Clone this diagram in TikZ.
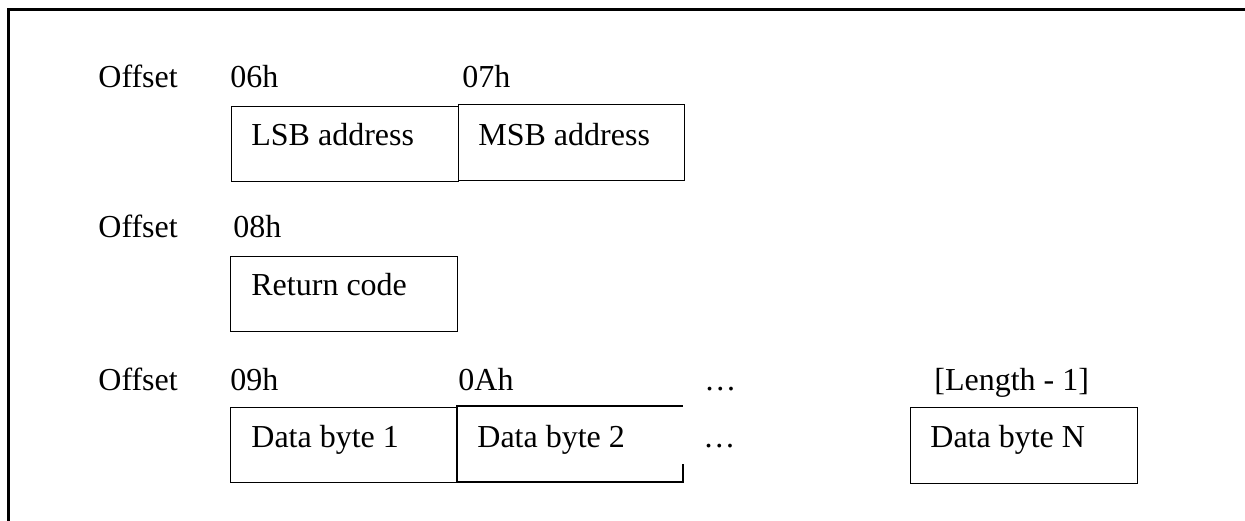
\documentclass[tikz,border=0pt]{standalone}
\usepackage{fontspec}
\setmainfont{Liberation Serif}
\begin{document}
\begin{tikzpicture}[x=0.5pt,y=-0.5pt,
  lbl/.style={anchor=base west, inner sep=0pt, font=\fontsize{16}{19}\selectfont},
  cell/.style={draw, line width=0.55pt, inner sep=0pt, anchor=north west},
  frame/.style={line width=1.35pt}]
\useasboundingbox (0,0) rectangle (1245,520);
\clip (0,0) rectangle (1245,520);
\draw[frame] (8.7,9.7) rectangle (1300,560);
% row 1
\node[lbl] (off1) at (98,87) {Offset};
\node[lbl] (h06) at (230,87) {06h};
\node[lbl] (h07) at (462,87) {07h};
\node[cell, minimum width=113.5pt, minimum height=37.5pt] (lsb) at (231,105.5) {};
\node[cell, minimum width=113pt, minimum height=38pt] (msb) at (458,104) {};
\node[lbl] (tlsb) at (251,145) {LSB address};
\node[lbl] (tmsb) at (478,145) {MSB address};
% row 2
\node[lbl] (off2) at (98,237) {Offset};
\node[lbl] (h08) at (233,237) {08h};
\node[cell, minimum width=113.75pt, minimum height=37.5pt] (ret) at (229.5,256) {};
\node[lbl] (tret) at (251,295) {Return code};
% row 3
\node[lbl] (off3) at (98,390) {Offset};
\node[lbl] (h09) at (230,390) {09h};
\node[lbl] (h0a) at (458,390) {0Ah};
\node[lbl] (dots1) at (704,390) {…};
\node[lbl] (hlen) at (934,390) {[Length - 1]};
\node[cell, minimum width=113.75pt, minimum height=37.5pt] (d1) at (229.5,407) {};
\coordinate (d2a) at (683,464);
\coordinate (d2b) at (683,482);
\coordinate (d2c) at (457,482);
\coordinate (d2d) at (457,406);
\coordinate (d2e) at (683,406);
\draw[line width=0.55pt] (d2a) -- (d2b) -- (d2c) -- (d2d) -- (d2e);
\node[cell, minimum width=113.5pt, minimum height=37.75pt] (dn) at (910,407) {};
\node[lbl] (td1) at (251,447) {Data byte 1};
\node[lbl] (td2) at (477,447) {Data byte 2};
\node[lbl] (dots2) at (703,447) {…};
\node[lbl] (tdn) at (930,447) {Data byte N};
\end{tikzpicture}
\end{document}
